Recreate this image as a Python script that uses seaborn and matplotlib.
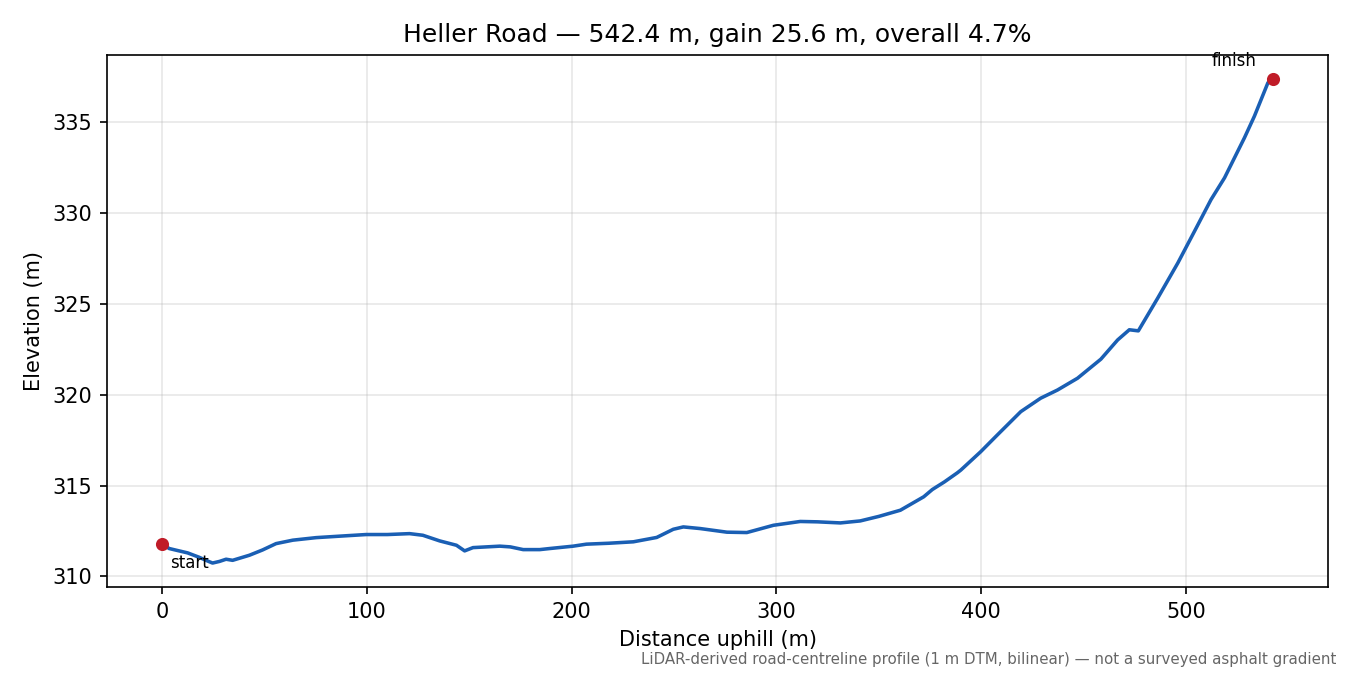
import matplotlib
matplotlib.use("Agg")
import matplotlib.pyplot as plt
import seaborn as sns
import pandas as pd

distance_m = [0, 3.4, 7.5, 12.4, 18.0, 22.0, 24.6, 28.0, 31.2, 34.4, 42.6, 49.0, 55.6, 63.8,
              75.2, 86.6, 99.6, 110.0, 120.8, 127.3, 135.5, 143.7, 147.7, 151.8, 164.9,
              170.0, 176.3, 184.4, 189.3, 200.7, 207.2, 218.0, 230.1, 241.5, 249.6, 254.5,
              262.7, 275.8, 285.5, 298.5, 311.6, 320.0, 331.2, 340.9, 350.0, 360.5, 371.9,
              376.1, 382.0, 388.3, 390.0, 399.7, 407.8, 419.3, 429.0, 437.2, 447.0, 458.4,
              466.6, 472.3, 476.7, 486.2, 496.0, 504.1, 512.2, 518.8, 528.5, 533.4, 540.0,
              542.4]
elevation_m = [311.80, 311.53, 311.42, 311.29, 311.05, 310.85, 310.73, 310.82, 310.94, 310.88,
               311.16, 311.45, 311.80, 311.99, 312.13, 312.21, 312.30, 312.30, 312.35, 312.26,
               311.95, 311.71, 311.40, 311.58, 311.66, 311.62, 311.47, 311.47, 311.53, 311.66,
               311.77, 311.82, 311.90, 312.14, 312.59, 312.72, 312.63, 312.43, 312.41, 312.81,
               313.02, 313.00, 312.94, 313.05, 313.30, 313.64, 314.38, 314.78, 315.20, 315.70,
               315.85, 316.86, 317.78, 319.07, 319.81, 320.26, 320.91, 321.96, 323.02, 323.58,
               323.52, 325.33, 327.26, 329.00, 330.75, 331.95, 334.15, 335.35, 337.19, 337.40]

endpoint_labels = ["start", "finish"]
title_text = "Heller Road \u2014 542.4 m, gain 25.6 m, overall 4.7%"
note_text = "LiDAR-derived road-centreline profile (1 m DTM, bilinear) \u2014 not a surveyed asphalt gradient"

df = pd.DataFrame({"distance": distance_m, "elevation": elevation_m})

fig, ax = plt.subplots(figsize=(9, 4.5), dpi=150)
fig.subplots_adjust(left=0.079, right=0.984, top=0.919, bottom=0.130)

sns.lineplot(data=df, x="distance", y="elevation", ax=ax, color="#1a5fb4", linewidth=1.7)

ends = df.iloc[[0, -1]]
ax.scatter(ends["distance"], ends["elevation"], color="#c01c28", s=28, zorder=5)

ax.annotate(endpoint_labels[0], (distance_m[0], elevation_m[0]), xytext=(4, -5),
            textcoords="offset points", ha="left", va="top", fontsize=8)
ax.annotate(endpoint_labels[1], (distance_m[-1], elevation_m[-1]), xytext=(-8, 4.5),
            textcoords="offset points", ha="right", va="bottom", fontsize=8)

ax.grid(True, alpha=0.3)
ax.set_xlabel("Distance uphill (m)")
ax.set_ylabel("Elevation (m)")
ax.set_title(title_text, fontsize=12)

fig.text(0.99, 0.012, note_text, ha="right", va="bottom", fontsize=7.2, color="#666666")

fig.savefig("out.png", dpi=150)
